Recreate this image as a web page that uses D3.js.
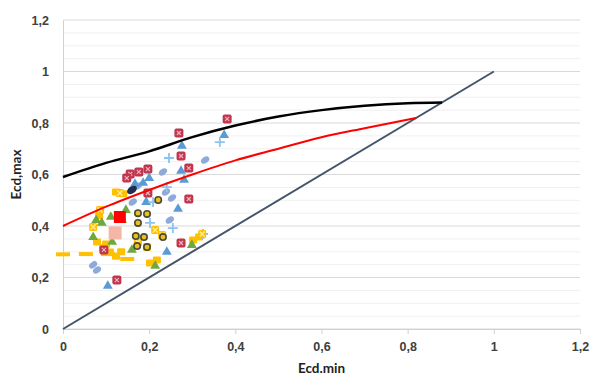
<!DOCTYPE html>
<html>
<head>
<meta charset="utf-8">
<title>Ecd.min vs Ecd,max</title>
<style>
  body { margin: 0; background: #fff; }
  svg { display: block; font-family: Lato, "Open Sans", sans-serif; }
  .tick text { font-size: 12.5px; font-weight: bold; fill: #404040; }
  .axis-title { font-size: 13.5px; font-weight: bold; fill: #222; }
</style>
</head>
<body>
<svg width="595" height="378"></svg>
<script src="https://d3js.org/d3.v7.min.js"></script>
<script>
// axis ticks
var xTicks = [0, 0.2, 0.4, 0.6, 0.8, 1, 1.2];
var yTicks = [0, 0.2, 0.4, 0.6, 0.8, 1, 1.2];
var minorTicks = d3.range(0, 1.2001, 0.05);

// reference lines
var diagonal = [[0, 0], [1, 1]];
var blackCurve = [[0, 0.59], [0.1, 0.645], [0.2, 0.69], [0.3, 0.745], [0.4, 0.79], [0.5, 0.825], [0.6, 0.85], [0.7, 0.867], [0.8, 0.877], [0.88, 0.88]];
var redCurve = [[0, 0.40], [0.1, 0.475], [0.2, 0.54], [0.3, 0.60], [0.4, 0.655], [0.5, 0.70], [0.6, 0.745], [0.7, 0.78], [0.82, 0.82]];

// scatter series
var crimsonSquares = [[0.381, 0.816], [0.269, 0.761], [0.274, 0.672], [0.292, 0.625], [0.197, 0.621], [0.176, 0.61], [0.156, 0.602], [0.148, 0.586], [0.197, 0.528], [0.292, 0.505], [0.274, 0.334], [0.125, 0.19], [0.095, 0.307]];
var blueTriangles = [[0.374, 0.753], [0.276, 0.711], [0.274, 0.614], [0.281, 0.579], [0.2, 0.586], [0.186, 0.567], [0.167, 0.563], [0.193, 0.493], [0.267, 0.466], [0.241, 0.299], [0.104, 0.167]];
var bluePlus = [[0.364, 0.726], [0.246, 0.664], [0.241, 0.551], [0.209, 0.493], [0.255, 0.392], [0.325, 0.369], [0.202, 0.412]];
var greyBlobs = [[0.33, 0.656], [0.232, 0.61], [0.239, 0.532], [0.253, 0.509], [0.248, 0.423], [0.162, 0.493], [0.174, 0.555], [0.07, 0.249], [0.079, 0.229]];
var navyPoints = [[0.16, 0.54]];
var yellowX = [[0.07, 0.396], [0.132, 0.528], [0.214, 0.384], [0.174, 0.338], [0.195, 0.318], [0.323, 0.369], [0.086, 0.462], [0.23, 0.365]];
var greenTriangles = [[0.07, 0.357], [0.09, 0.412], [0.137, 0.423], [0.16, 0.307], [0.146, 0.462], [0.077, 0.423], [0.111, 0.435], [0.114, 0.338], [0.214, 0.245], [0.299, 0.326]];
var yellowDashes = [[0, 0.29], [0.053, 0.291], [0.104, 0.291], [0.149, 0.272]];
var yellowSquares = [[0.079, 0.338], [0.093, 0.315], [0.109, 0.299], [0.123, 0.283], [0.202, 0.256], [0.218, 0.268], [0.302, 0.346], [0.316, 0.357], [0.123, 0.532], [0.1, 0.33], [0.135, 0.3], [0.084, 0.44], [0.14, 0.525]];
var gearCircles = [[0.221, 0.501], [0.174, 0.45], [0.195, 0.447], [0.174, 0.412], [0.169, 0.361], [0.188, 0.357], [0.232, 0.357], [0.172, 0.322], [0.195, 0.318]];
var bigRed = [[0.132, 0.435]];
var bigPink = [[0.121, 0.373]];

var svg = d3.select("svg"),
    margin = {top: 20, right: 15, bottom: 49, left: 63},
    width = +svg.attr("width") - margin.left - margin.right,
    height = +svg.attr("height") - margin.top - margin.bottom,
    g = svg.append("g").attr("transform", "translate(" + margin.left + "," + margin.top + ")");

var locale = d3.formatLocale({decimal: ",", thousands: ".", grouping: [3], currency: ["", ""]});
var fmt = locale.format("~g");

var x = d3.scaleLinear().domain([0, 1.2]).range([0, width]),
    y = d3.scaleLinear().domain([0, 1.2]).range([height, 0]);

// gridlines
g.append("g").selectAll("line")
  .data(minorTicks)
  .enter().append("line")
  .attr("x1", 0).attr("x2", width)
  .attr("y1", function(d) { return y(d); }).attr("y2", function(d) { return y(d); })
  .attr("stroke", function(d) { return Math.abs(d * 5 - Math.round(d * 5)) < 1e-6 ? "#d9d9d9" : "#f0f0f0"; })
  .attr("stroke-width", 1);

// axes
var xAxis = g.append("g")
  .attr("transform", "translate(0," + height + ")")
  .call(d3.axisBottom(x).tickValues(xTicks).tickFormat(fmt).tickSize(5).tickPadding(8));
var yAxis = g.append("g")
  .call(d3.axisLeft(y).tickValues(yTicks).tickFormat(fmt).tickSize(0).tickPadding(14));
xAxis.select(".domain").attr("stroke", "#d0d0d0");
xAxis.selectAll(".tick line").attr("stroke", "#d0d0d0");
yAxis.select(".domain").attr("stroke", "#d0d0d0");
svg.selectAll(".tick text").attr("font-family", null);

svg.append("text")
  .attr("class", "axis-title")
  .attr("text-anchor", "middle")
  .attr("x", margin.left + x(0.6))
  .attr("y", 373)
  .text("Ecd.min");
svg.append("text")
  .attr("class", "axis-title")
  .attr("text-anchor", "middle")
  .attr("transform", "translate(21," + (margin.top + y(0.6)) + ") rotate(-90)")
  .text("Ecd,max");

// lines
var line = d3.line()
  .x(function(d) { return x(d[0]); })
  .y(function(d) { return y(d[1]); });
var curve = d3.line()
  .curve(d3.curveMonotoneX)
  .x(function(d) { return x(d[0]); })
  .y(function(d) { return y(d[1]); });

g.append("path").datum(diagonal).attr("d", line)
  .attr("fill", "none").attr("stroke", "#44546a").attr("stroke-width", 2);

function tr(d) { return "translate(" + x(d[0]) + "," + y(d[1]) + ")"; }

// scatter points
g.selectAll(".blob").data(greyBlobs).enter().append("ellipse")
  .attr("transform", function(d) { return tr(d) + " rotate(-35)"; })
  .attr("rx", 4.5).attr("ry", 3)
  .attr("fill", "#8eaadb");

g.selectAll(".dash").data(yellowDashes).enter().append("rect")
  .attr("transform", tr)
  .attr("x", -7).attr("y", -2).attr("width", 14).attr("height", 4)
  .attr("fill", "#ffc000");

g.selectAll(".ysq").data(yellowSquares).enter().append("rect")
  .attr("transform", tr)
  .attr("x", -4).attr("y", -3.5).attr("width", 8).attr("height", 7).attr("rx", 1)
  .attr("fill", "#ffc000");

g.selectAll(".gtri").data(greenTriangles).enter().append("path")
  .attr("transform", tr)
  .attr("d", d3.symbol().type(d3.symbolTriangle).size(42))
  .attr("fill", "#70a840");

g.selectAll(".btri").data(blueTriangles).enter().append("path")
  .attr("transform", tr)
  .attr("d", d3.symbol().type(d3.symbolTriangle).size(42))
  .attr("fill", "#5b9bd5");

g.selectAll(".plus").data(bluePlus).enter().append("path")
  .attr("transform", tr)
  .attr("d", "M-5,0H5M0,-5V5")
  .attr("stroke", "#8cc4f0").attr("stroke-width", 1.8);

var crim = g.selectAll(".crim").data(crimsonSquares).enter().append("g")
  .attr("transform", tr);
crim.append("rect").attr("x", -4.5).attr("y", -4.5).attr("width", 9).attr("height", 9).attr("rx", 2)
  .attr("fill", "#c0364f");
crim.append("path").attr("d", "M-2,-2L2,2M2,-2L-2,2")
  .attr("stroke", "#f0b0b8").attr("stroke-width", 1.2);

var yx = g.selectAll(".yx").data(yellowX).enter().append("g")
  .attr("transform", tr);
yx.append("rect").attr("x", -4).attr("y", -4).attr("width", 8).attr("height", 8).attr("rx", 1.5)
  .attr("fill", "#ffc000");
yx.append("path").attr("d", "M-2.5,-2.5L2.5,2.5M2.5,-2.5L-2.5,2.5")
  .attr("stroke", "#fff0a0").attr("stroke-width", 1.3);

g.selectAll(".gear").data(gearCircles).enter().append("circle")
  .attr("transform", tr)
  .attr("r", 3.2)
  .attr("fill", "#e8c020").attr("stroke", "#4a4a30").attr("stroke-width", 1.6);

g.selectAll(".navy").data(navyPoints).enter().append("ellipse")
  .attr("transform", function(d) { return tr(d) + " rotate(-35)"; })
  .attr("rx", 5.5).attr("ry", 3.5)
  .attr("fill", "#1f2f4f");

g.selectAll(".pink").data(bigPink).enter().append("rect")
  .attr("transform", tr)
  .attr("x", -6.5).attr("y", -6.5).attr("width", 13).attr("height", 13)
  .attr("fill", "#f4b6a6");

g.selectAll(".red").data(bigRed).enter().append("rect")
  .attr("transform", tr)
  .attr("x", -6).attr("y", -6).attr("width", 12).attr("height", 12)
  .attr("fill", "#ff0000");

// curves on top
g.append("path").datum(blackCurve).attr("d", curve)
  .attr("fill", "none").attr("stroke", "#000").attr("stroke-width", 2.5);
g.append("path").datum(redCurve).attr("d", curve)
  .attr("fill", "none").attr("stroke", "#ff0000").attr("stroke-width", 2);
</script>
</body>
</html>
